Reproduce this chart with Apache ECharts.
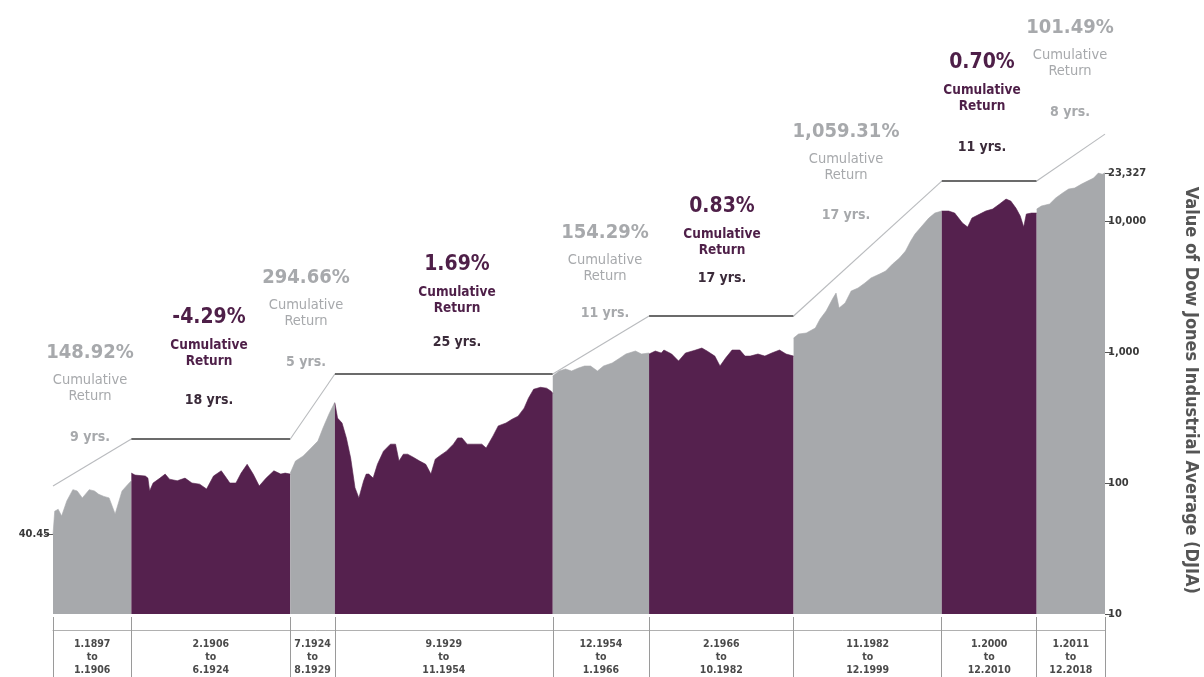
<!DOCTYPE html>
<html>
<head>
<meta charset="utf-8">
<script src="https://cdn.jsdelivr.net/npm/echarts@6/dist/echarts.min.js"></script>
<style>
html,body{margin:0;padding:0;background:#fff;overflow:hidden;}
#chart{width:1204px;height:677px;}
</style>
</head>
<body>
<div id="chart"></div>
<script>
// ---------- DATA ----------
const periodStart = ['1.1897','2.1906','7.1924','9.1929','12.1954','2.1966','11.1982','1.2000','1.2011'];
const periodEnd   = ['1.1906','6.1924','8.1929','11.1954','1.1966','10.1982','12.1999','12.2010','12.2018'];
const boundaryYears = [1897.0, 1906.08, 1924.5, 1929.67, 1954.92, 1966.08, 1982.83, 2000.0, 2011.0, 2018.92];
const returnPct = ['148.92%','-4.29%','294.66%','1.69%','154.29%','0.83%','1,059.31%','0.70%','101.49%'];
const periodYrs = ['9 yrs.','18 yrs.','5 yrs.','25 yrs.','11 yrs.','17 yrs.','17 yrs.','11 yrs.','8 yrs.'];
const yTickValues = [10, 100, 1000, 10000, 23327];
const startValue = 40.45;

// DJIA readings per period [year, value]
const seg1 = [[1897.0,40.45],[1897.2,61],[1897.6,63],[1898.0,56],[1898.6,73],[1899.3,89],[1899.5,91],[1899.8,87],[1900.4,77],[1901.2,89],[1901.8,87],[1902.3,82],[1902.9,79],[1903.5,77],[1904.2,58],[1905.0,87],[1905.7,98],[1906.08,104]];
const seg2 = [[1906.08,119],[1906.5,115],[1907.7,113],[1908.0,109],[1908.2,87],[1908.6,100],[1909.4,109],[1910.0,117],[1910.5,107],[1911.4,104],[1912.3,109],[1913.1,100],[1914.0,98],[1914.8,90],[1915.6,113],[1916.5,124],[1917.1,109],[1917.5,100],[1918.2,100],[1918.8,119],[1919.5,139],[1920.2,117],[1920.9,95],[1921.7,109],[1922.6,124],[1923.4,117],[1923.9,119],[1924.5,117]];
const seg3 = [[1924.5,119],[1925.1,147],[1926.0,161],[1926.8,182],[1927.7,209],[1928.3,264],[1929.0,338],[1929.67,415]];
const seg4 = [[1929.67,408],[1929.98,313],[1930.5,287],[1931.0,221],[1931.5,155],[1932.0,92],[1932.45,77],[1932.66,75],[1933.0,104],[1933.3,117],[1933.6,117],[1934.1,109],[1934.6,139],[1935.3,175],[1936.1,198],[1936.7,198],[1937.1,147],[1937.6,166],[1938.1,166],[1938.7,158],[1939.5,147],[1940.2,139],[1940.8,117],[1941.3,152],[1941.8,161],[1942.6,175],[1943.4,198],[1943.9,221],[1944.4,221],[1945.0,198],[1945.7,198],[1946.7,198],[1947.2,185],[1948.0,229],[1948.6,273],[1949.5,287],[1950.2,307],[1950.9,324],[1951.6,373],[1952.1,444],[1952.7,520],[1953.5,538],[1954.2,530],[1954.7,504],[1954.92,484]];
const seg5 = [[1954.92,656],[1955.65,716],[1956.4,742],[1957.1,716],[1957.9,755],[1958.6,782],[1959.3,782],[1960.1,716],[1960.8,782],[1961.8,824],[1962.7,900],[1963.4,966],[1964.5,1018],[1965.2,966],[1966.08,983]];
const seg6 = [[1966.08,966],[1966.8,1018],[1967.5,983],[1967.8,1036],[1968.7,966],[1969.5,854],[1970.3,983],[1971.3,1027],[1972.2,1073],[1972.8,1018],[1973.7,931],[1974.3,782],[1974.95,900],[1975.7,1036],[1976.6,1036],[1977.2,931],[1977.8,931],[1978.7,966],[1979.5,931],[1980.3,983],[1981.2,1036],[1981.96,966],[1982.83,931]];
const seg7 = [[1982.83,1279],[1983.4,1372],[1984.3,1397],[1985.35,1525],[1985.9,1786],[1986.6,2056],[1987.4,2583],[1987.75,2820],[1988.1,2167],[1988.8,2367],[1989.5,2922],[1990.3,3082],[1991.1,3367],[1991.8,3676],[1992.8,3941],[1993.5,4153],[1994.3,4697],[1995.1,5219],[1995.8,5903],[1996.4,7037],[1996.9,7958],[1997.7,9164],[1998.5,10540],[1999.2,11510],[2000.0,11924]];
const seg8 = [[2000.0,11924],[2000.8,11924],[2001.5,11510],[2002.4,9656],[2003.0,9000],[2003.5,10540],[2004.4,11300],[2005.1,11924],[2005.9,12350],[2006.7,13490],[2007.45,14720],[2008.0,14216],[2008.6,12560],[2009.1,10920],[2009.5,9000],[2009.8,11300],[2010.4,11510],[2011.0,11510]];
const seg9 = [[2011.0,12350],[2011.55,13030],[2012.5,13490],[2013.2,14990],[2014.0,16370],[2014.7,17550],[2015.4,17860],[2016.2,19140],[2016.9,20204],[2017.6,21290],[2018.15,23230],[2018.6,22800],[2018.92,23327]];
const segments = [seg1, seg2, seg3, seg4, seg5, seg6, seg7, seg8, seg9];

// trend staircase vertices
const stepYears  = [1897.0, 1906.08, 1924.5, 1929.67, 1954.92, 1966.08, 1982.83, 2000.0, 2011.0, 2018.92];
const stepValues = [95, 217, 217, 679, 679, 1884, 1884, 20200, 20200, 46100];

// ---------- STYLE / LAYOUT ----------
const PURPLE = '#55214e';
const GRAY = '#a7a9ac';
const PTEXT = '#4e1f48';
const YRSDARK = '#3b2b3a';
const FONT = '"DejaVu Sans Condensed", "DejaVu Sans", sans-serif';

const annX  = [90, 209, 306, 457, 605, 722, 846, 982, 1070];
const pctY  = [353, 318, 278, 265, 233, 207, 132, 63, 28];
const yrsY  = [437, 400, 362, 342, 313, 278, 215, 147, 112];

function fmt(v){ return String(v).replace(/\B(?=(\d{3})+(?!\d))/g, ','); }

const mids = [];
for (let i = 0; i < boundaryYears.length - 1; i++) mids.push((boundaryYears[i] + boundaryYears[i+1]) / 2);

const series = segments.map((d, i) => ({
  type: 'line',
  data: d,
  xAxisIndex: 0,
  yAxisIndex: 0,
  showSymbol: false,
  symbol: 'none',
  silent: true,
  lineStyle: { width: 0.6, color: i % 2 === 0 ? GRAY : PURPLE },
  areaStyle: { color: i % 2 === 0 ? GRAY : PURPLE, opacity: 1, origin: 'start' },
  z: 2
}));

for (let i = 0; i < stepYears.length - 1; i++) {
  const flat = (i % 2 === 1);
  series.push({
    type: 'line',
    data: [[stepYears[i], stepValues[i]], [stepYears[i+1], stepValues[i+1]]],
    xAxisIndex: 0, yAxisIndex: 0,
    showSymbol: false, symbol: 'none', silent: true, clip: false,
    lineStyle: { width: flat ? 1.4 : 1.1, color: flat ? '#3a3a3a' : '#b9bbbe' },
    z: 5
  });
}

const graphics = [];
for (let i = 0; i < returnPct.length; i++) {
  const isGray = (i % 2 === 0);
  const c = isGray ? GRAY : PTEXT;
  graphics.push({ type: 'text', style: { text: returnPct[i], x: annX[i], y: pctY[i], fill: c,
    font: 'bold ' + (isGray ? 20 : 21) + 'px ' + FONT, textAlign: 'center', textVerticalAlign: 'middle' } });
  const subFont = isGray ? ('14.5px ' + FONT) : ('bold 13.5px ' + FONT);
  graphics.push({ type: 'text', style: { text: 'Cumulative', x: annX[i], y: pctY[i] + 27, fill: c,
    font: subFont, textAlign: 'center', textVerticalAlign: 'middle' } });
  graphics.push({ type: 'text', style: { text: 'Return', x: annX[i], y: pctY[i] + 43, fill: c,
    font: subFont, textAlign: 'center', textVerticalAlign: 'middle' } });
  graphics.push({ type: 'text', style: { text: periodYrs[i], x: annX[i], y: yrsY[i], fill: isGray ? GRAY : YRSDARK,
    font: 'bold 14px ' + FONT, textAlign: 'center', textVerticalAlign: 'middle' } });
}

const chart = echarts.init(document.getElementById('chart'), null, { renderer: 'canvas' });
chart.setOption({
  animation: false,
  backgroundColor: '#ffffff',
  textStyle: { fontFamily: FONT },
  grid: { left: 53, right: 99, top: 166.7, bottom: 63, containLabel: false, outerBoundsMode: 'none' },
  xAxis: [
    {
      type: 'value', min: boundaryYears[0], max: boundaryYears[boundaryYears.length - 1],
      position: 'bottom', offset: 3,
      axisLine: { show: false },
      axisTick: { show: true, customValues: boundaryYears, length: 60, lineStyle: { color: '#9a9a9a', width: 1 } },
      axisLabel: { show: false },
      splitLine: { show: false }
    },
    {
      type: 'value', min: boundaryYears[0], max: boundaryYears[boundaryYears.length - 1],
      position: 'bottom', offset: 16,
      axisLine: { show: true, lineStyle: { color: '#b0b0b0', width: 1 } },
      axisTick: { show: false },
      axisLabel: {
        show: true, customValues: mids, margin: 8, fontSize: 10.5, fontWeight: 'bold',
        color: '#4a4a4a', lineHeight: 13, fontFamily: FONT, align: 'center',
        formatter: function (v) {
          let k = 0, best = Infinity;
          for (let j = 0; j < mids.length; j++) { const dd = Math.abs(mids[j] - v); if (dd < best) { best = dd; k = j; } }
          return periodStart[k] + '\nto\n' + periodEnd[k];
        }
      },
      splitLine: { show: false }
    }
  ],
  yAxis: [
    {
      type: 'log', logBase: 10, min: 10, max: 26000, position: 'right',
      name: 'Value of Dow Jones Industrial Average (DJIA)',
      nameLocation: 'middle', nameRotate: -90, nameGap: 77,
      nameTextStyle: { fontSize: 18, fontWeight: 'bold', color: '#555555', fontFamily: FONT },
      axisLine: { show: false },
      axisTick: { show: true, customValues: yTickValues, length: 6, lineStyle: { color: '#555', width: 1 } },
      axisLabel: { show: true, customValues: yTickValues, margin: 3, fontSize: 11, fontWeight: 'bold',
        color: '#3a3a3a', fontFamily: FONT, formatter: function (v) { return fmt(Math.round(v)); } },
      splitLine: { show: false }
    },
    {
      type: 'log', logBase: 10, min: 10, max: 26000, position: 'left',
      axisLine: { show: false },
      axisTick: { show: true, customValues: [startValue], length: 8, lineStyle: { color: '#555', width: 1 } },
      axisLabel: { show: true, customValues: [startValue], margin: 3, fontSize: 11, fontWeight: 'bold',
        color: '#3a3a3a', fontFamily: FONT, formatter: function () { return String(startValue); } },
      splitLine: { show: false }
    }
  ],
  series: series,
  graphic: graphics
});
</script>
</body>
</html>
